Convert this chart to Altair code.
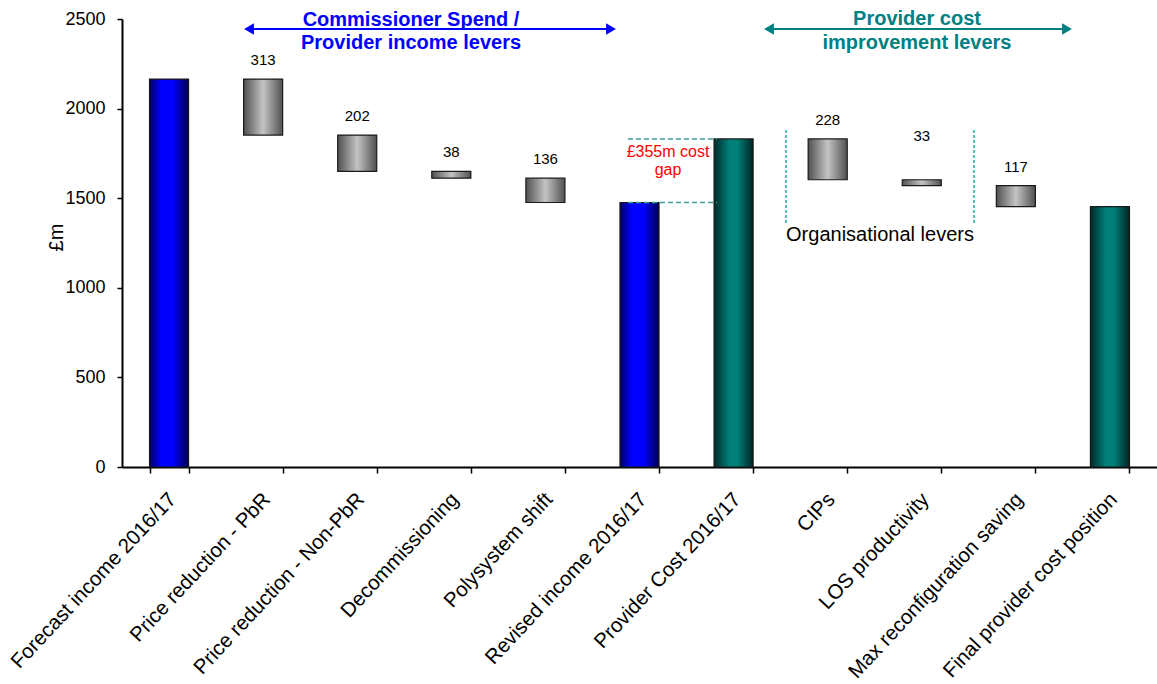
import altair as alt
import pandas as pd

# ---- data ----
categories = [
    "Forecast income 2016/17",
    "Price reduction - PbR",
    "Price reduction - Non-PbR",
    "Decommissioning",
    "Polysystem shift",
    "Revised income 2016/17",
    "Provider Cost 2016/17",
    "CIPs",
    "LOS productivity",
    "Max reconfiguration saving",
    "Final provider cost position",
]
kinds = ["income", "step", "step", "step", "step", "income",
         "cost", "step", "step", "step", "cost"]
amounts = [2165, 313, 202, 38, 136, 1476, 1831, 228, 33, 117, 1453]
step_labels = ["", "313", "202", "38", "136", "", "", "228", "33", "117", ""]

rows = []
level = 0
for cat, kind, amt, lab in zip(categories, kinds, amounts, step_labels):
    if kind == "step":
        y0, y1 = level, level - amt
        level = y1
    else:
        y0, y1 = 0, amt
        level = amt
    rows.append({"cat": cat, "kind": kind, "y0": y0, "y1": y1, "label": lab})
df = pd.DataFrame(rows)

FONT = "Liberation Sans"
W, H = 1035, 448

def grad(stops):
    return alt.LinearGradient(
        gradient="linear", x1=0, x2=1, y1=0, y2=0,
        stops=[alt.GradientStop(color=c, offset=o) for o, c in stops],
    )

blue_grad = grad([(0, "#000060"), (0.3, "#0000ff"), (0.6, "#0000ff"), (1, "#000050")])
grey_grad = grad([(0, "#505050"), (0.5, "#c4c4c4"), (1, "#505050")])
teal_grad = grad([(0, "#002a2a"), (0.4, "#008078"), (0.6, "#008078"), (1, "#002424")])

xscale = alt.Scale(paddingInner=0.585, paddingOuter=0.2925)
yscale = alt.Scale(domain=[0, 2500], nice=False)

xenc = alt.X(
    "cat:N", sort=categories, scale=xscale, title=None,
    axis=alt.Axis(
        labelAngle=-47, labelAlign="right", labelBaseline="top",
        labelFontSize=20.5, labelColor="black", labelPadding=16, labelLimit=0,
        labelOffset=-4,
        labelOverlap=False, tickBand="extent", tickSize=6, tickWidth=1.5,
        tickColor="black", domainColor="black", domainWidth=2, labelFont=FONT,
    ),
)
yenc = alt.Y(
    "y0:Q", scale=yscale, title="£m",
    axis=alt.Axis(
        values=[0, 500, 1000, 1500, 2000, 2500], format="d", grid=False,
        labelFontSize=18, labelColor="black", labelPadding=12, tickSize=5,
        tickWidth=1.5, tickColor="black", domainColor="black", domainWidth=2,
        titleFontSize=20, titleFontWeight="normal", titleColor="black",
        titleX=-66, titleY=218, titleAngle=-90, titleAlign="center",
        titleBaseline="middle", labelFont=FONT, titleFont=FONT,
    ),
)

base = alt.Chart(df)

def bars(kind, fill):
    return base.transform_filter(alt.datum.kind == kind).mark_bar(
        fill=fill, stroke="#1a1a1a", strokeWidth=1.2
    ).encode(x=xenc, y=yenc, y2="y1:Q")

blue = bars("income", blue_grad)
grey = bars("step", grey_grad)
teal = bars("cost", teal_grad)

lab_main = base.transform_filter(
    (alt.datum.kind == "step") & (alt.datum.cat != "LOS productivity")
).mark_text(dy=-19, fontSize=15, font=FONT, color="black").encode(
    x=xenc, y=alt.Y("y0:Q", scale=yscale), text="label:N"
)
lab_los = base.transform_filter(alt.datum.cat == "LOS productivity").mark_text(
    dy=-44, fontSize=15, font=FONT, color="black"
).encode(x=xenc, y=alt.Y("y0:Q", scale=yscale), text="label:N")

# cost gap dashed lines at the two levels
gap_df = pd.DataFrame({"v": [amounts[6], amounts[5]]})
gap_lines = alt.Chart(gap_df).mark_rule(
    strokeDash=[5, 3], color="#3a9e9e", strokeWidth=1.5
).encode(x=alt.value(506), x2=alt.value(595), y=alt.Y("v:Q", scale=yscale))

one = pd.DataFrame({"a": [0]})

def txt(t, x, y, size, color, weight="normal"):
    return alt.Chart(one).mark_text(
        fontSize=size, font=FONT, color=color, fontWeight=weight,
        align="center", baseline="middle",
    ).encode(x=alt.value(x), y=alt.value(y), text=alt.value(t))

def vrule(x, y1, y2, color, dash, width=1.5):
    return alt.Chart(one).mark_rule(
        color=color, strokeDash=dash, strokeWidth=width
    ).encode(x=alt.value(x), y=alt.value(y1), y2=alt.value(y2))

def hrule(x1, x2, y, color, width=2):
    return alt.Chart(one).mark_rule(color=color, strokeWidth=width).encode(
        x=alt.value(x1), x2=alt.value(x2), y=alt.value(y)
    )

def head(x, y, shape, color):
    return alt.Chart(one).mark_point(
        shape=shape, filled=True, size=130, color=color, opacity=1, strokeWidth=0
    ).encode(x=alt.value(x), y=alt.value(y))

BLUE = "#0000ff"
TEAL = "#008080"

ann = [
    gap_lines,
    txt("£355m cost", 546, 133, 16, "#ff0000"),
    txt("gap", 546, 151, 16, "#ff0000"),
    vrule(664, 111, 205, "#22a8a8", [3, 2]),
    vrule(852, 111, 205, "#22a8a8", [3, 2]),
    txt("Organisational levers", 758, 216, 20, "black"),
    hrule(125, 491, 10, BLUE),
    head(127, 10, "triangle-left", BLUE),
    head(489, 10, "triangle-right", BLUE),
    txt("Commissioner Spend /", 289, 1, 20, BLUE, "bold"),
    txt("Provider income levers", 289, 24, 20, BLUE, "bold"),
    hrule(645, 947, 10, TEAL),
    head(647, 10, "triangle-left", TEAL),
    head(945, 10, "triangle-right", TEAL),
    txt("Provider cost", 795, 0, 20, TEAL, "bold"),
    txt("improvement levers", 795, 24, 20, TEAL, "bold"),
]

chart = alt.layer(blue, grey, teal, lab_main, lab_los, *ann).properties(
    width=W, height=H,
    autosize=alt.AutoSizeParams(type="none"),
    padding={"left": 122, "top": 19, "right": 0, "bottom": 217},
    background="white",
).configure(font=FONT).configure_view(stroke=None)

chart.save("out.html", embed_options={"renderer": "svg", "actions": False})
